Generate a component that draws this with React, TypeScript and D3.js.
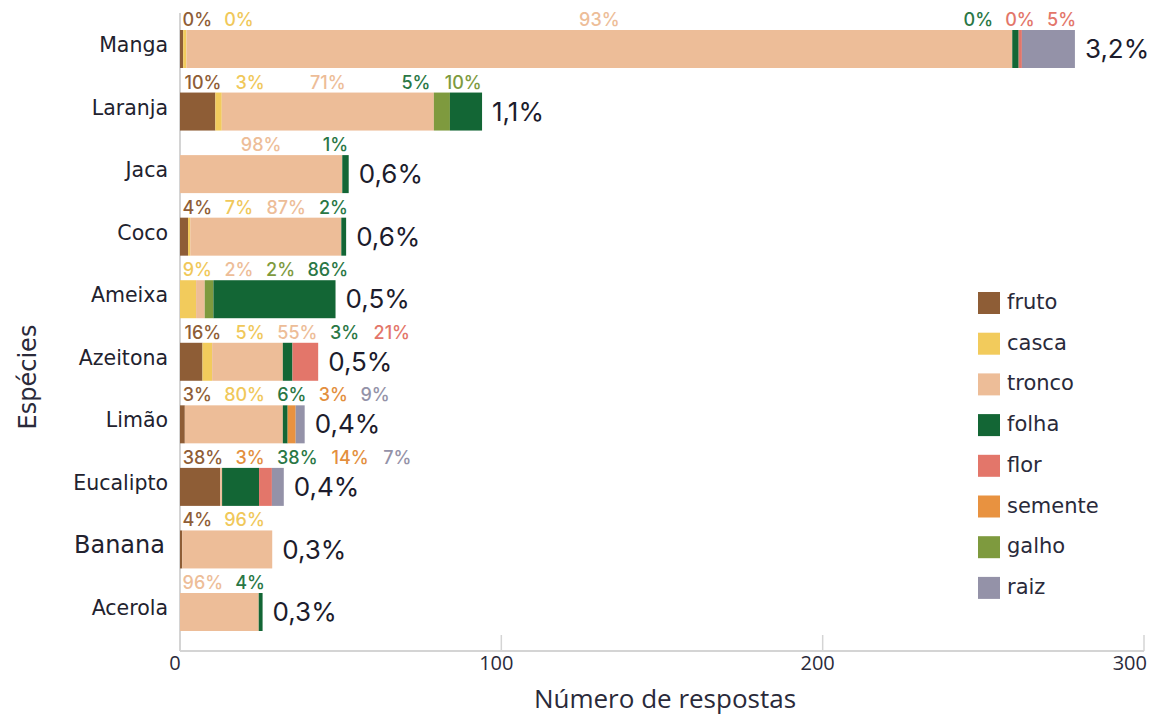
import React from "react";
import * as d3 from "d3";

// ---------- data ----------
const species = ["Manga", "Laranja", "Jaca", "Coco", "Ameixa", "Azeitona", "Limão", "Eucalipto", "Banana", "Acerola"];
const legendParts = ["fruto", "casca", "tronco", "folha", "flor", "semente", "galho", "raiz"];
const stackOrder = ["fruto", "casca", "tronco", "galho", "folha", "flor", "semente", "raiz"];
const partColors = ["#8E5D36", "#F2CB5C", "#EDBD98", "#136635", "#E3766A", "#E89240", "#7E9A3E", "#9492A8"];

// counts per species, in legend order: fruto, casca, tronco, folha, flor, semente, galho, raiz
const fruto = [1, 11, 0, 2.5, 0, 7, 1.5, 12.5, 0.7, 0];
const casca = [1, 2, 0, 0.7, 5, 3, 0, 0, 0, 0];
const tronco = [257, 66, 50.5, 47, 2.7, 22, 30.5, 0.6, 28, 24.5];
const folha = [2, 10, 2, 1.5, 38, 3, 1.5, 11.5, 0, 1.2];
const flor = [1, 0, 0, 0, 0, 8, 0, 4, 0, 0];
const semente = [0, 0, 0, 0, 0, 0, 2.5, 0, 0, 0];
const galho = [0, 5, 0, 0, 2.7, 0, 0, 0, 0, 0];
const raiz = [16.5, 0, 0, 0, 0, 0, 2.8, 3.7, 0, 0];

const shareLabels = ["3,2%", "1,1%", "0,6%", "0,6%", "0,5%", "0,5%", "0,4%", "0,4%", "0,3%", "0,3%"];

// percentage labels above each bar (text, colour as legend part)
const pctTexts = [
  ["0%", "0%", "93%", "0%", "0%", "5%"],
  ["10%", "3%", "71%", "5%", "10%"],
  ["98%", "1%"],
  ["4%", "7%", "87%", "2%"],
  ["9%", "2%", "2%", "86%"],
  ["16%", "5%", "55%", "3%", "21%"],
  ["3%", "80%", "6%", "3%", "9%"],
  ["38%", "3%", "38%", "14%", "7%"],
  ["4%", "96%"],
  ["96%", "4%"],
];
const pctColors = [
  ["fruto", "casca", "tronco", "folha", "flor", "flor"],
  ["fruto", "casca", "tronco", "folha", "galho"],
  ["tronco", "folha"],
  ["fruto", "casca", "tronco", "folha"],
  ["casca", "tronco", "galho", "folha"],
  ["fruto", "casca", "tronco", "folha", "flor"],
  ["fruto", "casca", "folha", "semente", "raiz"],
  ["fruto", "semente", "folha", "semente", "raiz"],
  ["fruto", "casca"],
  ["tronco", "folha"],
];

const xTicks = [0, 100, 200, 300];

const W = 1155;
const H = 716;
const labelColor: Record<string, string> = {
  fruto: "#8E5D36",
  casca: "#F0C85A",
  tronco: "#EDBD98",
  folha: "#2A7745",
  flor: "#E3766A",
  semente: "#E38F3E",
  galho: "#7E9A3E",
  raiz: "#9492A8",
};

export default function App() {
  const color = d3.scaleOrdinal<string, string>().domain(legendParts).range(partColors);
  const x = d3.scaleLinear().domain([0, 300]).range([180, 1144]);
  const y = d3.scaleBand<string>().domain(species).range([30, 631]).paddingInner(0.3926).paddingOuter(0);

  const partValues: Record<string, number[]> = { fruto, casca, tronco, folha, flor, semente, galho, raiz };
  const rows = species.map((s, i) => {
    const r: any = { species: s };
    legendParts.forEach((p) => (r[p] = partValues[p][i]));
    return r;
  });
  const series = d3.stack().keys(stackOrder)(rows);

  const pctFont = 18;
  const textW = (t: string) => (t.length - 1) * 0.62 * pctFont + 0.86 * pctFont;
  const gap = 15;

  const labelLayouts = species.map((s, i) => {
    const segs = series
      .map((ser) => ({ key: ser.key, a: ser[i][0], b: ser[i][1] }))
      .filter((d) => d.b - d.a > 0);
    const texts = pctTexts[i];
    const widths = texts.map(textW);
    const barEnd = x(segs[segs.length - 1].b);
    const pos = texts.map((_, k) => {
      const seg = segs[Math.min(k, segs.length - 1)];
      return (x(seg.a) + x(seg.b)) / 2;
    });
    const forward = () => {
      for (let k = 0; k < pos.length; k++) {
        const minC = k === 0 ? x(0) + 4 + widths[0] / 2 : pos[k - 1] + widths[k - 1] / 2 + gap + widths[k] / 2;
        if (pos[k] < minC) pos[k] = minC;
      }
    };
    forward();
    const last = pos.length - 1;
    if (pos[last] + widths[last] / 2 > barEnd) {
      pos[last] = barEnd - widths[last] / 2;
      for (let k = last - 1; k >= 0; k--) {
        const maxC = pos[k + 1] - widths[k + 1] / 2 - gap - widths[k] / 2;
        if (pos[k] > maxC) pos[k] = maxC;
      }
      forward();
    }
    return pos;
  });

  const uiFont = "'DejaVu Sans', Verdana, sans-serif";
  const numFont = "Inter, 'Open Sans', sans-serif";
  const axisFont = "'Open Sans', sans-serif";

  return (
    <svg width={W} height={H} style={{ position: "absolute", left: 0, top: 0, background: "#fff" }}>
      {/* axes */}
      <line x1={x(0)} x2={x(0)} y1={13} y2={651} stroke="#d4d4d4" strokeWidth={2} />
      <line x1={x(0)} x2={x(300)} y1={651} y2={651} stroke="#d4d4d4" strokeWidth={2} />
      {xTicks.map((t, i) => (
        <g key={t}>
          {t > 0 && <line x1={x(t)} x2={x(t)} y1={635} y2={651} stroke="#d4d4d4" strokeWidth={1.5} />}
          <text
            x={i === xTicks.length - 1 ? x(t) + 3 : x(t) - 5}
            y={670}
            textAnchor={i === xTicks.length - 1 ? "end" : "middle"}
            fontFamily={axisFont}
            fontSize={20}
            fill="#2a2a3a"
          >
            {t}
          </text>
        </g>
      ))}
      <text x={665} y={708} textAnchor="middle" fontFamily={axisFont} fontSize={26} fill="#2a2a3a">
        Número de respostas
      </text>
      <text
        transform={`translate(36, 377) rotate(-90)`}
        textAnchor="middle"
        fontFamily={uiFont}
        fontSize={24}
        fill="#2a2a3a"
      >
        Espécies
      </text>

      {/* category labels */}
      {species.map((s) => (
        <text
          key={s}
          x={168}
          y={(y(s) as number) + y.bandwidth() / 2 - 3}
          textAnchor="end"
          fontFamily={uiFont}
          fontSize={s === "Banana" ? 24 : 20.5}
          fill="#22222e"
          dominantBaseline="middle"
          dx={s === "Banana" ? -3 : 0}
        >
          {s}
        </text>
      ))}

      {/* bars */}
      {series.map((ser) => (
        <g key={ser.key} fill={color(ser.key)}>
          {ser.map((d, i) =>
            d[1] - d[0] > 0 ? (
              <rect
                key={species[i]}
                x={x(d[0])}
                y={y(species[i])}
                width={x(d[1]) - x(d[0])}
                height={y.bandwidth()}
              />
            ) : null
          )}
        </g>
      ))}

      {/* percentage labels */}
      {species.map((s, i) => (
        <g key={s + "pct"}>
          {pctTexts[i].map((t, k) => (
            <text
              key={k}
              x={labelLayouts[i][k]}
              y={(y(s) as number) - 4}
              textAnchor="middle"
              fontFamily={numFont}
              fontWeight={500}
              fontSize={pctFont}
              fill={labelColor[pctColors[i][k]]}
            >
              {t}
            </text>
          ))}
        </g>
      ))}

      {/* share labels */}
      {species.map((s, i) => {
        const end = series[series.length - 1][i][1];
        return (
          <text
            key={s + "share"}
            x={x(end) + 10}
            y={(y(s) as number) + y.bandwidth() / 2 + 2}
            dominantBaseline="middle"
            fontFamily={numFont}
            fontSize={26}
            fill="#1c1c2c"
          >
            {shareLabels[i]}
          </text>
        );
      })}

      {/* legend */}
      {legendParts.map((p, i) => (
        <g key={p} transform={`translate(978, ${292 + i * 40.7})`}>
          <rect width={22} height={22} fill={color(p)} />
          <text x={29} y={11} dominantBaseline="middle" fontFamily={uiFont} fontSize={21} fill="#2a2a3a">
            {p}
          </text>
        </g>
      ))}
    </svg>
  );
}
